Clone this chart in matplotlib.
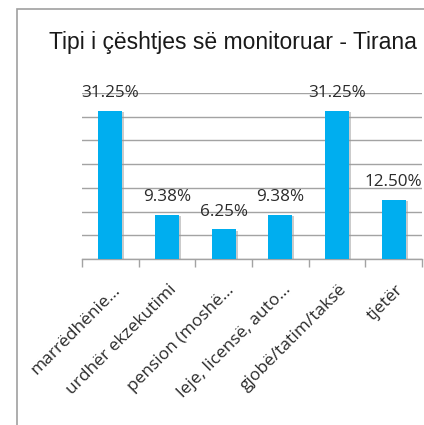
import matplotlib
matplotlib.use('Agg')
import matplotlib.pyplot as plt
import matplotlib.patheffects as pe
from matplotlib.patches import Rectangle

# data
categories = ['marrëdhënie...', 'urdhër ekzekutimi', 'pension (moshë...',
              'leje, licensë, auto...', 'gjobë/tatim/taksë', 'tjetër']
values = [31.25, 9.38, 6.25, 9.38, 31.25, 12.50]
labels = ['31.25%', '9.38%', '6.25%', '9.38%', '31.25%', '12.50%']
title = 'Tipi i çështjes së monitoruar - Tirana'

bar_color = '#00AEEF'
grid_color = '#A3A3A3'
text_color = '#2b2b2b'

fig = plt.figure(figsize=(4.24, 4.25), dpi=100)
fig.patch.set_facecolor('white')

# chart area border (runs off the right and bottom edge)
fig.patches.append(Rectangle((17 / 424, -0.1), 1.2, 1 - 9 / 425 + 0.1,
                             transform=fig.transFigure, fill=False,
                             edgecolor='#A0A0A0', linewidth=1.2))

ax = fig.add_axes([82 / 424, 1 - 259 / 425, 340 / 424, 166 / 425])
x = list(range(len(categories)))
bars = ax.bar(x, values, width=0.42, color=bar_color, zorder=3)
for b in bars:
    b.set_path_effects([pe.SimplePatchShadow(offset=(1.5, -1.0), shadow_rgbFace='#999999', alpha=0.5),
                        pe.Normal()])

for xi, v, lab in zip(x, values, labels):
    ax.annotate(lab, (xi, v), xytext=(0, 7), textcoords='offset points',
                ha='center', va='bottom', fontsize=12.3, family='Open Sans',
                color=text_color, zorder=4)

ax.set_xlim(-0.5, len(categories) - 0.5)
ax.set_ylim(0, 35)
ax.set_yticks(range(0, 36, 5))
ax.yaxis.grid(True, color=grid_color, linewidth=1.0, zorder=0)
ax.tick_params(axis='y', left=False, labelleft=False)

# category boundary ticks
ax.set_xticks([i - 0.5 for i in range(len(categories) + 1)])
ax.set_xticklabels([])
ax.tick_params(axis='x', direction='out', length=6, color=grid_color, width=1.0)
for xi, cat in zip(x, categories):
    ax.annotate(cat, (xi, 0), xytext=(5.5, -20.5), textcoords='offset points',
                rotation=45, rotation_mode='anchor', ha='right', va='center',
                fontsize=12.5, family='Open Sans', color=text_color)

for s in ['top', 'right', 'left']:
    ax.spines[s].set_visible(False)
ax.spines['bottom'].set_color(grid_color)
ax.spines['bottom'].set_linewidth(1.0)

fig.text(233 / 424, 1 - 43 / 425, title, ha='center', va='center',
         fontsize=16.5, family='Liberation Sans', color='#1a1a1a')

fig.savefig('out.png', dpi=100)
